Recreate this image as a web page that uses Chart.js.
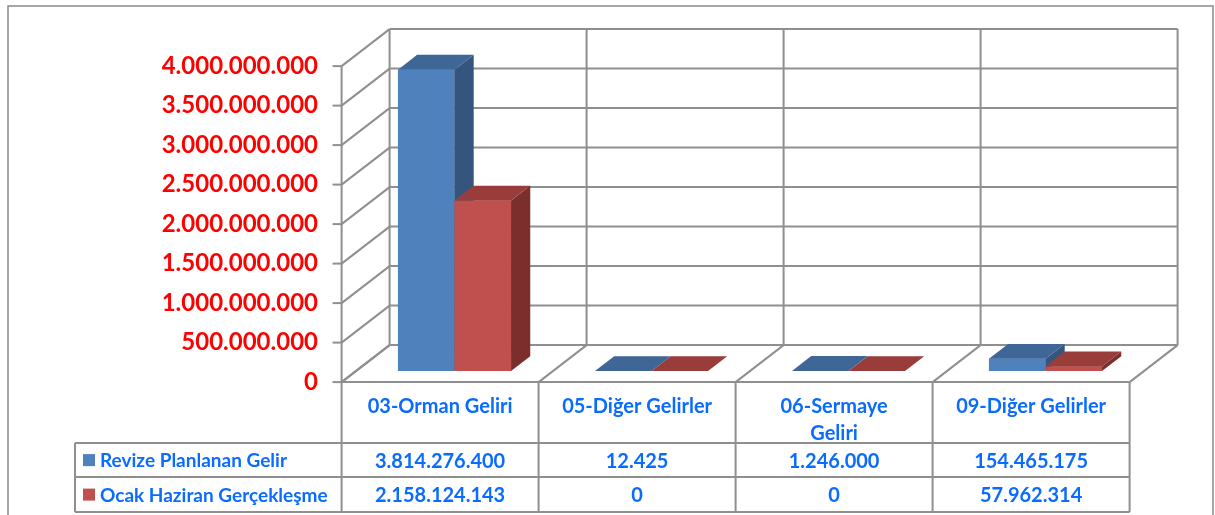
<!DOCTYPE html>
<html>
<head>
<meta charset="utf-8">
<script src="https://cdn.jsdelivr.net/npm/chart.js@4.4.0/dist/chart.umd.min.js"></script>
<style>
  body { margin: 0; background: #fff; }
  #wrap { position: relative; width: 1215px; height: 515px; }
</style>
</head>
<body>
<div id="wrap"><canvas id="gelirChart" width="1215" height="515"></canvas></div>
<script>
// Data
const categoryLines = [['03-Orman Geliri'], ['05-Diğer Gelirler'], ['06-Sermaye', 'Geliri'], ['09-Diğer Gelirler']];
const seriesNames = ['Revize Planlanan Gelir', 'Ocak Haziran Gerçekleşme'];
const plannedValues = [3814276400, 12425, 1246000, 154465175];
const actualValues = [2158124143, 0, 0, 57962314];
const yMax = 4000000000;
const yStep = 500000000;

// 3D look (pixels)
const DEPTH_X = 48, DEPTH_Y = -37;
const BAR_Z0 = 0.3, BAR_Z1 = 0.7;
const GRID = '#8f8f8f';
const TEXT_BLUE = '#0a6cff';
const FONT = 'Lato, "Open Sans", sans-serif';

function dotted(n) {
    return String(Math.round(n)).replace(/\B(?=(\d{3})+(?!\d))/g, '.');
}

function line(ctx, x1, y1, x2, y2) {
    ctx.beginPath();
    ctx.moveTo(x1, y1);
    ctx.lineTo(x2, y2);
    ctx.stroke();
}

const threeD = {
    id: 'threeD',
    beforeDatasetsDraw(chart) {
        const { ctx, chartArea: a, scales: { x, y } } = chart;
        const ox = -BAR_Z0 * DEPTH_X, oy = -BAR_Z0 * DEPTH_Y;
        const L = a.left + ox, R = a.right + ox;
        const y0 = y.getPixelForValue(0) + oy;
        const yTop = y.getPixelForValue(yMax) + oy;
        const n = categoryLines.length;

        ctx.save();
        // outer frame
        ctx.strokeStyle = '#8a8a8a';
        ctx.lineWidth = 1.5;
        ctx.strokeRect(8, 6, 1205, 520);

        ctx.strokeStyle = GRID;
        ctx.lineWidth = 2;
        // side wall + back wall gridlines, tick marks
        y.ticks.forEach(t => {
            const py = y.getPixelForValue(t.value) + oy;
            line(ctx, L, py, L + DEPTH_X, py + DEPTH_Y);
            line(ctx, L + DEPTH_X, py + DEPTH_Y, R + DEPTH_X, py + DEPTH_Y);
            line(ctx, L - 9, py, L, py);
        });
        line(ctx, L, yTop, L, y0);
        for (let i = 0; i <= n; i++) {
            const fx = L + (R - L) * i / n;
            line(ctx, fx + DEPTH_X, yTop + DEPTH_Y, fx + DEPTH_X, y0 + DEPTH_Y);
            line(ctx, fx, y0, fx + DEPTH_X, y0 + DEPTH_Y);
        }
        line(ctx, L, y0, R, y0);

        // data table
        const headBottom = y0 + 61, row1 = headBottom + 34, row2 = row1 + 35;
        const legendLeft = 75;
        ctx.beginPath();
        ctx.moveTo(legendLeft, headBottom); ctx.lineTo(R, headBottom);
        ctx.moveTo(legendLeft, row1); ctx.lineTo(R, row1);
        ctx.moveTo(legendLeft, row2); ctx.lineTo(R, row2);
        ctx.moveTo(legendLeft, headBottom); ctx.lineTo(legendLeft, row2);
        for (let i = 0; i <= n; i++) {
            const fx = L + (R - L) * i / n;
            ctx.moveTo(fx, y0); ctx.lineTo(fx, row2);
        }
        ctx.stroke();

        ctx.fillStyle = TEXT_BLUE;
        ctx.font = 'bold 20px ' + FONT;
        ctx.textAlign = 'center';
        ctx.textBaseline = 'middle';
        categoryLines.forEach((lines, i) => {
            const cx = x.getPixelForValue(i) + ox;
            lines.forEach((s, k) => ctx.fillText(s, cx, y0 + 24 + k * 27));
            ctx.fillText(dotted(plannedValues[i]), cx, (headBottom + row1) / 2 + 1);
            ctx.fillText(dotted(actualValues[i]), cx, (row1 + row2) / 2 + 1);
        });
        ctx.textAlign = 'left';
        ctx.font = 'bold 19px ' + FONT;
        chart.data.datasets.forEach((ds, k) => {
            const cy = k === 0 ? (headBottom + row1) / 2 : (row1 + row2) / 2;
            ctx.fillStyle = ds.backgroundColor;
            ctx.fillRect(83, cy - 6, 12, 12);
            ctx.fillStyle = TEXT_BLUE;
            ctx.fillText(ds.label, 100, cy + 1);
        });
        ctx.restore();
    },
    afterDatasetsDraw(chart) {
        const ctx = chart.ctx;
        const dx = (BAR_Z1 - BAR_Z0) * DEPTH_X, dy = (BAR_Z1 - BAR_Z0) * DEPTH_Y;
        const metas = chart.data.datasets.map((ds, k) => chart.getDatasetMeta(k));
        ctx.save();
        for (let i = 0; i < categoryLines.length; i++) {
            metas.forEach((meta, k) => {
                const ds = chart.data.datasets[k];
                const bar = meta.data[i];
                const { x, y, base, width } = bar.getProps(['x', 'y', 'base', 'width'], true);
                const l = x - width / 2, r = x + width / 2;
                bar.draw(ctx);
                ctx.fillStyle = ds.sideColor;
                ctx.beginPath();
                ctx.moveTo(r, y); ctx.lineTo(r + dx, y + dy);
                ctx.lineTo(r + dx, base + dy); ctx.lineTo(r, base);
                ctx.closePath(); ctx.fill();
                ctx.fillStyle = ds.topColor;
                ctx.beginPath();
                ctx.moveTo(l, y); ctx.lineTo(l + dx, y + dy);
                ctx.lineTo(r + dx, y + dy); ctx.lineTo(r, y);
                ctx.closePath(); ctx.fill();
            });
        }
        ctx.restore();
    }
};

new Chart(document.getElementById('gelirChart'), {
    type: 'bar',
    data: {
        labels: categoryLines.map(l => l.join(' ')),
        datasets: [{
            label: seriesNames[0],
            data: plannedValues,
            backgroundColor: '#4f81bd',
            topColor: '#3e6697',
            sideColor: '#35557f',
            borderWidth: 0
        }, {
            label: seriesNames[1],
            data: actualValues,
            backgroundColor: '#c0504d',
            topColor: '#9a3d3a',
            sideColor: '#7b2f2d',
            borderWidth: 0
        }]
    },
    options: {
        responsive: false,
        animation: false,
        layout: { padding: { left: 0, top: 55, right: 71, bottom: 144 } },
        datasets: { bar: { categoryPercentage: 0.574, barPercentage: 1 } },
        plugins: { legend: { display: false }, tooltip: { enabled: false } },
        scales: {
            x: { display: false },
            y: {
                min: 0,
                max: yMax,
                border: { display: false },
                grid: { display: false, drawTicks: false },
                ticks: {
                    stepSize: yStep,
                    padding: 38,
                    labelOffset: 11,
                    color: '#ff0000',
                    font: { family: FONT, size: 24, weight: 'bold' },
                    callback: v => dotted(v)
                },
                afterFit: scale => { scale.width = 356; }
            }
        }
    },
    plugins: [threeD]
});
</script>
</body>
</html>
